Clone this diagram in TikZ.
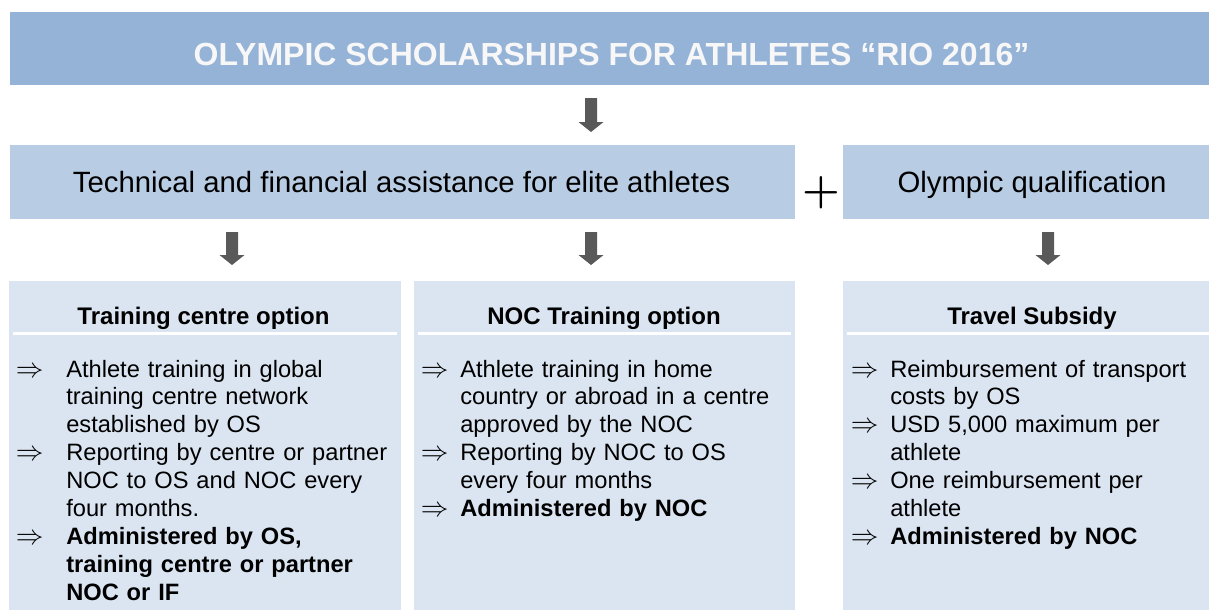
\documentclass[tikz,border=0pt]{standalone}
\usepackage[no-math]{fontspec}
\setmainfont{Liberation Sans}
\usetikzlibrary{calc}
\definecolor{titlebg}{HTML}{95B3D7}
\definecolor{rowbg}{HTML}{B8CCE4}
\definecolor{boxbg}{HTML}{DBE5F1}
\definecolor{arrowc}{HTML}{595959}
\definecolor{titletxt}{HTML}{F7F7F7}
\newcommand\blockarrow[2]{%
  \fill[arrowc] ($(#1)+(-6,0)$) -- ($(#1)+(6,0)$) -- ($(#2)+(6,-10)$) -- ($(#2)+(12.5,-10)$)
    -- (#2) -- ($(#2)+(-12.5,-10)$) -- ($(#2)+(-6,-10)$) -- cycle;}
\begin{document}
\begin{tikzpicture}[x=0.75pt,y=-0.75pt,
  panel/.style={fill=#1, draw=none, inner sep=0pt, outer sep=0pt, anchor=north west, rectangle},
  sep/.style={draw=white, line width=2.25pt},
  titletext/.style={anchor=base, inner sep=0pt, text=titletxt, font={\fontsize{24}{28}\selectfont\bfseries}},
  rowtext/.style={anchor=base, inner sep=0pt, font={\fontsize{22}{26}\selectfont}},
  headtext/.style={anchor=base, inner sep=0pt, font={\fontsize{18}{21}\selectfont\bfseries}},
  itemarrow/.style={anchor=base west, inner sep=0pt, font={\fontsize{21}{21}\selectfont}},
  itemtext/.style={anchor=base west, inner sep=0pt, align=left, text width=330pt,
    font={\fontsize{17.75}{20.925}\selectfont}},
  plussign/.style={anchor=center, inner sep=0pt, font={\fontsize{24}{24}\selectfont\boldmath}}
]
\useasboundingbox (0,0) rectangle (1209,611);

% panels
\node[panel=titlebg, minimum width=899.25pt, minimum height=54.375pt] (title) at (10,12) {};
\node[panel=rowbg, minimum width=588.75pt, minimum height=55.5pt] (tech) at (10,145) {};
\node[panel=rowbg, minimum width=274.5pt, minimum height=55.5pt] (qual) at (843,145) {};
\node[panel=boxbg, minimum width=294pt, minimum height=246.75pt] (tc) at (9,281) {};
\node[panel=boxbg, minimum width=285.75pt, minimum height=246.75pt] (noc) at (414,281) {};
\node[panel=boxbg, minimum width=274.5pt, minimum height=246.75pt] (trav) at (843,281) {};

% texts of title and second row
\node[titletext] (titlet) at (611.5,65) {OLYMPIC SCHOLARSHIPS FOR ATHLETES “RIO 2016”};
\node[rowtext] (techt) at (401.5,192) {Technical and financial assistance for elite athletes};
\node[rowtext] (qualt) at (1032,192) {Olympic qualification};
\node[plussign] (plus) at (821,192.5) {\scalebox{1.3}{$+$}};

% headers and white rules
\node[headtext] (tch) at (203.5,324) {Training centre option};
\node[headtext] (noch) at (604,324) {NOC Training option};
\node[headtext] (travh) at (1032,324) {Travel Subsidy};
\coordinate (r1a) at (13,333.5); \coordinate (r1b) at (397,333.5);
\coordinate (r2a) at (418,333.5); \coordinate (r2b) at (791,333.5);
\coordinate (r3a) at (847,333.5); \coordinate (r3b) at (1209,333.5);
\draw[sep] (r1a) -- (r1b);
\draw[sep] (r2a) -- (r2b);
\draw[sep] (r3a) -- (r3b);

% block arrows
\coordinate (a0s) at (591,98);   \coordinate (a0e) at (591,132);
\coordinate (a1s) at (232,232);  \coordinate (a1e) at (232,265);
\coordinate (a2s) at (591,232);  \coordinate (a2e) at (591,265);
\coordinate (a3s) at (1048,232); \coordinate (a3e) at (1048,265);
\blockarrow{a0s}{a0e}
\blockarrow{a1s}{a1e}
\blockarrow{a2s}{a2e}
\blockarrow{a3s}{a3e}

% left box items
\node[itemarrow] (l1a) at (15.5,377) {$\Rightarrow$};
\node[itemtext] (l1) at (66,377) {Athlete training in global\\training centre network\\established by OS};
\node[itemarrow] (l2a) at (15.5,460.7) {$\Rightarrow$};
\node[itemtext] (l2) at (66,460.7) {Reporting by centre or partner\\NOC to OS and NOC every\\four months.};
\node[itemarrow] (l3a) at (15.5,544.4) {$\Rightarrow$};
\node[itemtext] (l3) at (66,544.4) {\bfseries Administered by OS,\\training centre or partner\\NOC or IF};

% middle box items
\node[itemarrow] (m1a) at (420.5,377) {$\Rightarrow$};
\node[itemtext] (m1) at (460,377) {Athlete training in home\\country or abroad in a centre\\approved by the NOC};
\node[itemarrow] (m2a) at (420.5,460.7) {$\Rightarrow$};
\node[itemtext] (m2) at (460,460.7) {Reporting by NOC to OS\\every four months};
\node[itemarrow] (m3a) at (420.5,516.5) {$\Rightarrow$};
\node[itemtext] (m3) at (460,516.5) {\bfseries Administered by NOC};

% right box items
\node[itemarrow] (t1a) at (850.5,377) {$\Rightarrow$};
\node[itemtext] (t1) at (890,377) {Reimbursement of transport\\costs by OS};
\node[itemarrow] (t2a) at (850.5,432.8) {$\Rightarrow$};
\node[itemtext] (t2) at (890,432.8) {USD 5,000 maximum per\\athlete};
\node[itemarrow] (t3a) at (850.5,488.6) {$\Rightarrow$};
\node[itemtext] (t3) at (890,488.6) {One reimbursement per\\athlete};
\node[itemarrow] (t4a) at (850.5,544.4) {$\Rightarrow$};
\node[itemtext] (t4) at (890,544.4) {\bfseries Administered by NOC};
\end{tikzpicture}
\end{document}
